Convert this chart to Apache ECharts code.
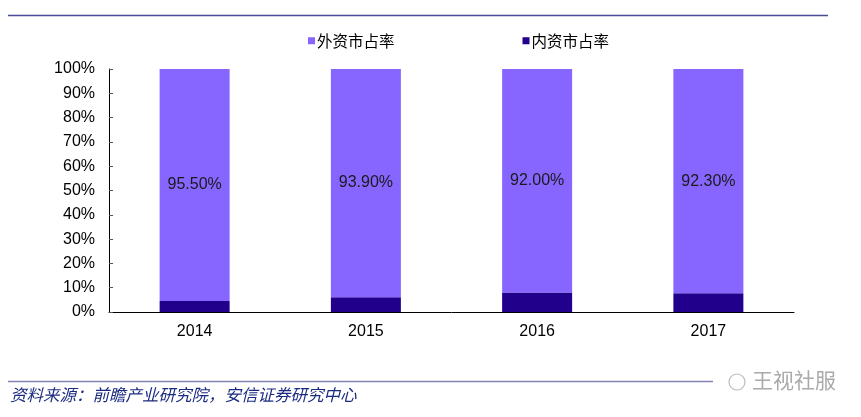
<!DOCTYPE html>
<html>
<head>
<meta charset="utf-8">
<script src="https://cdn.jsdelivr.net/npm/echarts@6/dist/echarts.min.js"></script>
<style>
html,body{margin:0;padding:0;background:#fff;}
#chart{width:861px;height:417px;}
</style>
</head>
<body>
<div id="chart"></div>
<script>
const categories = ['2014', '2015', '2016', '2017'];
const foreignShare = [95.5, 93.9, 92.0, 92.3];
const domesticShare = [4.5, 6.1, 8.0, 7.7];
const seriesNames = ['外资市占率', '内资市占率'];
const yTicks = [0, 10, 20, 30, 40, 50, 60, 70, 80, 90, 100];
const sourceText = '资料来源：前瞻产业研究院，安信证券研究中心';
const watermark = '王视社服';

const numFont = '"Liberation Sans", Arial, sans-serif';
const cjkFont = '"Noto Sans CJK SC", sans-serif';

const chart = echarts.init(document.getElementById('chart'));
chart.setOption({
  animation: false,
  backgroundColor: '#fff',
  legend: {
    left: 303,
    top: 28,
    itemWidth: 7,
    itemHeight: 7,
    itemGap: 128,
    icon: 'rect',
    data: [seriesNames[0], seriesNames[1]],
    textStyle: { fontFamily: cjkFont, fontSize: 15.5, color: '#000', padding: [0, 0, 0, -3] }
  },
  grid: { left: 109, right: 67, top: 69, bottom: 105, containLabel: false },
  xAxis: {
    type: 'category',
    data: categories,
    axisLine: { lineStyle: { color: '#000', width: 1 } },
    axisTick: { inside: true, length: 4, lineStyle: { color: '#555' } },
    axisLabel: { fontFamily: numFont, fontSize: 16, color: '#000', margin: 12 }
  },
  yAxis: {
    type: 'value',
    min: 0,
    max: 100,
    interval: 10,
    axisLine: { show: true, lineStyle: { color: '#000', width: 1 } },
    axisTick: { show: true, inside: true, length: 4, lineStyle: { color: '#555' } },
    splitLine: { show: false },
    axisLabel: {
      fontFamily: numFont, fontSize: 16, color: '#000', margin: 14,
      padding: [3, 0, 0, 0],
      formatter: v => yTicks.includes(v) ? v + '%' : ''
    }
  },
  series: [
    {
      name: seriesNames[1],
      type: 'bar',
      stack: 'total',
      barWidth: 70,
      data: domesticShare,
      itemStyle: { color: '#21008C' }
    },
    {
      name: seriesNames[0],
      type: 'bar',
      stack: 'total',
      barWidth: 70,
      data: foreignShare,
      itemStyle: { color: '#8766FF' },
      label: {
        show: true,
        position: 'inside',
        fontFamily: numFont,
        fontSize: 16,
        color: '#1a1a1a',
        formatter: p => p.value.toFixed(2) + '%'
      }
    }
  ],
  graphic: [
    { type: 'line', shape: { x1: 8, y1: 15.5, x2: 828, y2: 15.5 }, style: { stroke: '#4a4a96', lineWidth: 1.5 } },
    { type: 'line', shape: { x1: 8, y1: 381.5, x2: 828, y2: 381.5 }, style: { stroke: '#8585b3', lineWidth: 1.5 } },
    { type: 'text', left: 10, top: 386, style: { text: sourceText, font: 'italic 16.5px "Noto Sans CJK SC", sans-serif', fill: '#1a2a80' } },
    { type: 'rect', shape: { x: 713, y: 370, width: 115, height: 26 }, style: { fill: '#fff' } },
    { type: 'text', left: 752, top: 370, style: { text: watermark, font: '21px "Noto Sans CJK SC", sans-serif', fill: '#aaaaaa' } },
    { type: 'circle', shape: { cx: 737, cy: 382, r: 8 }, style: { fill: 'none', stroke: '#bbbbbb', lineWidth: 1.2 } }
  ]
});
</script>
</body>
</html>
